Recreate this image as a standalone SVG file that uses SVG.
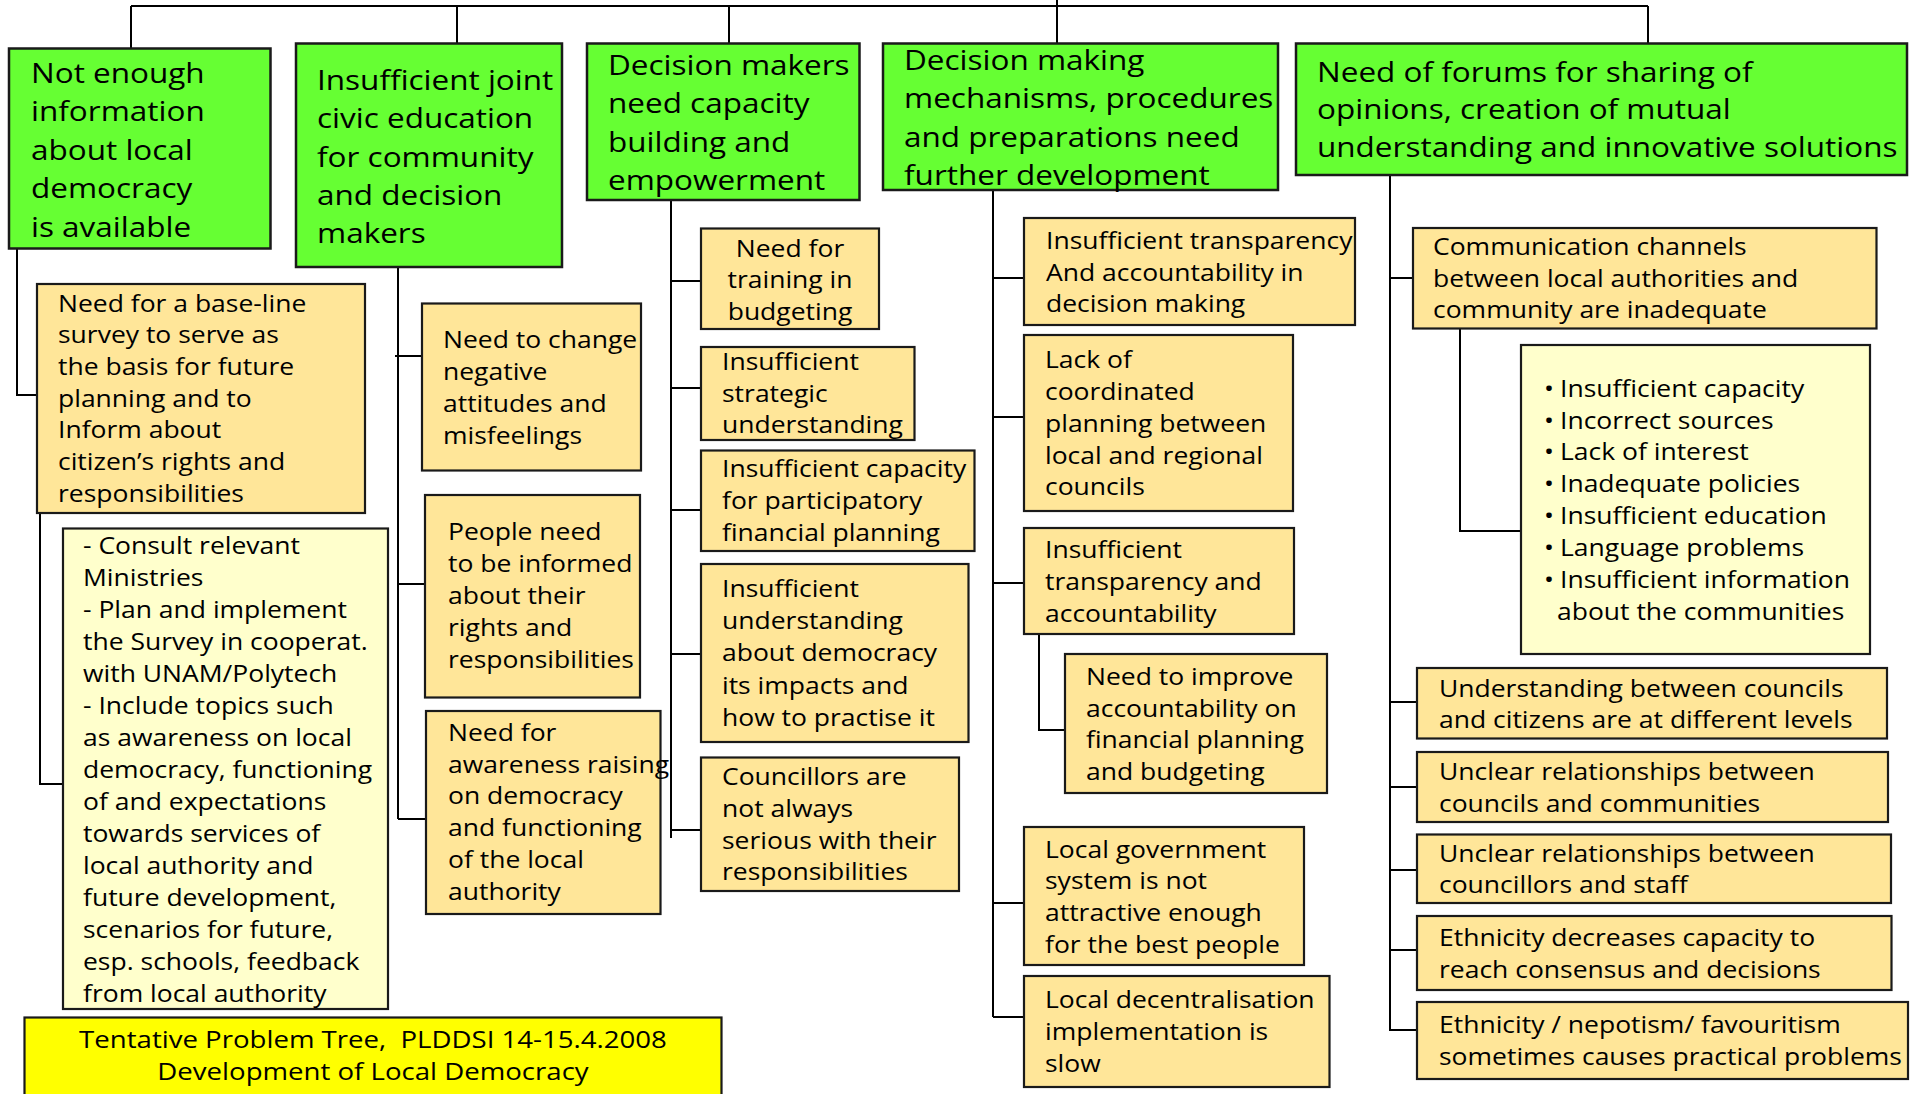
<svg xmlns="http://www.w3.org/2000/svg" width="1910" height="1094" viewBox="0 0 1910 1094">
<style>
.g{fill:#66FF33;stroke:#1a1a1a;stroke-width:2.5}
.y{fill:#FFE699;stroke:#1a1a1a;stroke-width:2.2}
.ly{fill:#FFFFCC;stroke:#1a1a1a;stroke-width:2.2}
.t{fill:#FFFF00;stroke:#1a1a1a;stroke-width:2.2}
.tg{font-family:"Open Sans","Liberation Sans",sans-serif;font-size:27.5px;fill:#000}
.ty{font-family:"Open Sans","Liberation Sans",sans-serif;font-size:23px;fill:#000}
.c{fill:none;stroke:#000;stroke-width:2}
</style>
<rect width="1910" height="1094" fill="#fff"/>
<g id="connectors" class="c">
<path d="M131 6H1648M131 6V48M457 6V43M729 6V43M1057 0V43M1648 6V43"/>
<path d="M17 249V395H37M40 513V784H63"/>
<path d="M398 267V819M395 356H422M398 584H425M398 819H426"/>
<path d="M671 200V838M671 281H701M671 388H701M671 510H701M671 654H701M671 830H701"/>
<path d="M993 190V1017M993 278H1024M993 417H1024M993 583H1024M1039 634V730H1065M993 903H1024M993 1017H1024"/>
<path d="M1390 175V1031M1390 278H1413M1460 329V531H1521M1390 702H1417M1390 787H1417M1390 870H1417M1390 950H1417M1390 1030H1417"/>
</g>
<g id="n_info">
<rect class="g" x="9" y="48.5" width="261.5" height="200"/>
<text class="tg" transform="translate(31 0) scale(1.1455 1)"><tspan x="0" y="83">Not enough</tspan><tspan x="0" y="121.5">information</tspan><tspan x="0" y="160">about local</tspan><tspan x="0" y="198.5">democracy</tspan><tspan x="0" y="237">is available</tspan></text>
</g>
<g id="n_civic">
<rect class="g" x="296" y="43.5" width="266" height="223.5"/>
<text class="tg" transform="translate(317 0) scale(1.1455 1)"><tspan x="0" y="90">Insufficient joint</tspan><tspan x="0" y="128.3">civic education</tspan><tspan x="0" y="166.6">for community</tspan><tspan x="0" y="204.9">and decision</tspan><tspan x="0" y="243.2">makers</tspan></text>
</g>
<g id="n_capacity">
<rect class="g" x="587" y="43.5" width="272.5" height="156.5"/>
<text class="tg" transform="translate(608 0) scale(1.1455 1)"><tspan x="0" y="75">Decision makers</tspan><tspan x="0" y="113.3">need capacity</tspan><tspan x="0" y="151.6">building and</tspan><tspan x="0" y="190">empowerment</tspan></text>
</g>
<g id="n_mech">
<rect class="g" x="883" y="43.5" width="395" height="146.5"/>
<text class="tg" transform="translate(904 0) scale(1.1455 1)"><tspan x="0" y="70">Decision making</tspan><tspan x="0" y="108.3">mechanisms, procedures</tspan><tspan x="0" y="146.6">and preparations need</tspan><tspan x="0" y="185">further development</tspan></text>
</g>
<g id="n_forums">
<rect class="g" x="1296" y="43.5" width="611" height="131.5"/>
<text class="tg" transform="translate(1317 0) scale(1.1455 1)"><tspan x="0" y="81.7">Need of forums for sharing of</tspan><tspan x="0" y="119.5">opinions, creation of mutual</tspan><tspan x="0" y="157.3">understanding and innovative solutions</tspan></text>
</g>
<g id="n_baseline">
<rect class="y" x="37" y="284" width="328" height="229"/>
<text class="ty" transform="translate(58 0) scale(1.152 1)"><tspan x="0" y="311.7">Need for a base-line</tspan><tspan x="0" y="343.4">survey to serve as</tspan><tspan x="0" y="375.1">the basis for future</tspan><tspan x="0" y="406.8">planning and to</tspan><tspan x="0" y="438.5">Inform about</tspan><tspan x="0" y="470.2">citizen’s rights and</tspan><tspan x="0" y="501.9">responsibilities</tspan></text>
</g>
<g id="n_survey">
<rect class="ly" x="63" y="528.5" width="325" height="480.5"/>
<text class="ty" transform="translate(83 0) scale(1.152 1)"><tspan x="0" y="554">- Consult relevant</tspan><tspan x="0" y="586">Ministries</tspan><tspan x="0" y="618">- Plan and implement</tspan><tspan x="0" y="650">the Survey in cooperat.</tspan><tspan x="0" y="682">with UNAM/Polytech</tspan><tspan x="0" y="714">- Include topics such</tspan><tspan x="0" y="746">as awareness on local</tspan><tspan x="0" y="778">democracy, functioning</tspan><tspan x="0" y="810">of and expectations</tspan><tspan x="0" y="842">towards services of</tspan><tspan x="0" y="874">local authority and</tspan><tspan x="0" y="906">future development,</tspan><tspan x="0" y="938">scenarios for future,</tspan><tspan x="0" y="970">esp. schools, feedback</tspan><tspan x="0" y="1002">from local authority</tspan></text>
</g>
<g id="n_attitudes">
<rect class="y" x="422" y="303.5" width="219" height="167"/>
<text class="ty" transform="translate(443 0) scale(1.152 1)"><tspan x="0" y="348.3">Need to change</tspan><tspan x="0" y="380.3">negative</tspan><tspan x="0" y="412.3">attitudes and</tspan><tspan x="0" y="444.3">misfeelings</tspan></text>
</g>
<g id="n_people">
<rect class="y" x="425" y="495" width="215" height="202.5"/>
<text class="ty" transform="translate(448 0) scale(1.152 1)"><tspan x="0" y="540">People need</tspan><tspan x="0" y="571.9">to be informed</tspan><tspan x="0" y="603.8">about their</tspan><tspan x="0" y="635.7">rights and</tspan><tspan x="0" y="667.6">responsibilities</tspan></text>
</g>
<g id="n_awareness">
<rect class="y" x="426" y="711" width="234.5" height="203"/>
<text class="ty" transform="translate(448 0) scale(1.152 1)"><tspan x="0" y="740.7">Need for</tspan><tspan x="0" y="772.6">awareness raising</tspan><tspan x="0" y="804.5">on democracy</tspan><tspan x="0" y="836.4">and functioning</tspan><tspan x="0" y="868.3">of the local</tspan><tspan x="0" y="900.2">authority</tspan></text>
</g>
<g id="n_training">
<rect class="y" x="701" y="228.5" width="178" height="100.5"/>
<text class="ty" text-anchor="middle" transform="translate(790 0) scale(1.152 1)"><tspan x="0" y="256.7">Need for</tspan><tspan x="0" y="288.4">training in</tspan><tspan x="0" y="320.1">budgeting</tspan></text>
</g>
<g id="n_strategic">
<rect class="y" x="701" y="347" width="213.5" height="93"/>
<text class="ty" transform="translate(722 0) scale(1.152 1)"><tspan x="0" y="370">Insufficient</tspan><tspan x="0" y="401.6">strategic</tspan><tspan x="0" y="433.3">understanding</tspan></text>
</g>
<g id="n_participatory">
<rect class="y" x="701" y="450.5" width="273.5" height="100.5"/>
<text class="ty" transform="translate(722 0) scale(1.152 1)"><tspan x="0" y="477.3">Insufficient capacity</tspan><tspan x="0" y="509">for participatory</tspan><tspan x="0" y="540.7">financial planning</tspan></text>
</g>
<g id="n_democracy">
<rect class="y" x="701" y="564" width="267.5" height="178"/>
<text class="ty" transform="translate(722 0) scale(1.152 1)"><tspan x="0" y="597.3">Insufficient</tspan><tspan x="0" y="629.4">understanding</tspan><tspan x="0" y="661.5">about democracy</tspan><tspan x="0" y="693.6">its impacts and</tspan><tspan x="0" y="725.7">how to practise it</tspan></text>
</g>
<g id="n_councillors">
<rect class="y" x="701" y="757.5" width="258" height="133.5"/>
<text class="ty" transform="translate(722 0) scale(1.152 1)"><tspan x="0" y="785">Councillors are</tspan><tspan x="0" y="816.8">not always</tspan><tspan x="0" y="848.6">serious with their</tspan><tspan x="0" y="880.4">responsibilities</tspan></text>
</g>
<g id="n_transparency1">
<rect class="y" x="1024" y="218" width="331" height="107"/>
<text class="ty" transform="translate(1046 0) scale(1.152 1)"><tspan x="0" y="249">Insufficient transparency</tspan><tspan x="0" y="280.6">And accountability in</tspan><tspan x="0" y="312.2">decision making</tspan></text>
</g>
<g id="n_coordinated">
<rect class="y" x="1024" y="335" width="269" height="176"/>
<text class="ty" transform="translate(1045 0) scale(1.152 1)"><tspan x="0" y="368.3">Lack of</tspan><tspan x="0" y="400.1">coordinated</tspan><tspan x="0" y="431.9">planning between</tspan><tspan x="0" y="463.7">local and regional</tspan><tspan x="0" y="495.5">councils</tspan></text>
</g>
<g id="n_transparency2">
<rect class="y" x="1024" y="528" width="270" height="106"/>
<text class="ty" transform="translate(1045 0) scale(1.152 1)"><tspan x="0" y="558.3">Insufficient</tspan><tspan x="0" y="590">transparency and</tspan><tspan x="0" y="621.7">accountability</tspan></text>
</g>
<g id="n_improve">
<rect class="y" x="1065" y="654" width="262" height="139"/>
<text class="ty" transform="translate(1086 0) scale(1.152 1)"><tspan x="0" y="685">Need to improve</tspan><tspan x="0" y="716.7">accountability on</tspan><tspan x="0" y="748.4">financial planning</tspan><tspan x="0" y="780.1">and budgeting</tspan></text>
</g>
<g id="n_attractive">
<rect class="y" x="1024" y="827" width="280" height="138"/>
<text class="ty" transform="translate(1045 0) scale(1.152 1)"><tspan x="0" y="857.7">Local government</tspan><tspan x="0" y="889.5">system is not</tspan><tspan x="0" y="921.3">attractive enough</tspan><tspan x="0" y="953.1">for the best people</tspan></text>
</g>
<g id="n_decentral">
<rect class="y" x="1024" y="976" width="305.5" height="111"/>
<text class="ty" transform="translate(1045 0) scale(1.152 1)"><tspan x="0" y="1008.3">Local decentralisation</tspan><tspan x="0" y="1040.4">implementation is</tspan><tspan x="0" y="1072.5">slow</tspan></text>
</g>
<g id="n_channels">
<rect class="y" x="1413" y="228" width="463.5" height="100.5"/>
<text class="ty" transform="translate(1433 0) scale(1.152 1)"><tspan x="0" y="255">Communication channels</tspan><tspan x="0" y="286.7">between local authorities and</tspan><tspan x="0" y="318.4">community are inadequate</tspan></text>
</g>
<g id="n_reasons">
<rect class="ly" x="1521" y="345" width="349" height="309"/>
<text class="ty" transform="translate(1544 0) scale(1.152 1)"><tspan x="0" y="396.7">•</tspan><tspan x="13.9" y="396.7">Insufficient capacity</tspan><tspan x="0" y="428.6">•</tspan><tspan x="13.9" y="428.6">Incorrect sources</tspan><tspan x="0" y="460.5">•</tspan><tspan x="13.9" y="460.5">Lack of interest</tspan><tspan x="0" y="492.4">•</tspan><tspan x="13.9" y="492.4">Inadequate policies</tspan><tspan x="0" y="524.3">•</tspan><tspan x="13.9" y="524.3">Insufficient education</tspan><tspan x="0" y="556.2">•</tspan><tspan x="13.9" y="556.2">Language problems</tspan><tspan x="0" y="588.1">•</tspan><tspan x="13.9" y="588.1">Insufficient information</tspan><tspan x="11.3" y="620">about the communities</tspan></text>
</g>
<g id="n_levels">
<rect class="y" x="1417" y="668" width="470" height="70.5"/>
<text class="ty" transform="translate(1439 0) scale(1.152 1)"><tspan x="0" y="696.7">Understanding between councils</tspan><tspan x="0" y="728.4">and citizens are at different levels</tspan></text>
</g>
<g id="n_communities">
<rect class="y" x="1417" y="752" width="471" height="70"/>
<text class="ty" transform="translate(1439 0) scale(1.152 1)"><tspan x="0" y="780">Unclear relationships between</tspan><tspan x="0" y="811.7">councils and communities</tspan></text>
</g>
<g id="n_staff">
<rect class="y" x="1417" y="834.5" width="474" height="68.5"/>
<text class="ty" transform="translate(1439 0) scale(1.152 1)"><tspan x="0" y="861.7">Unclear relationships between</tspan><tspan x="0" y="893.4">councillors and staff</tspan></text>
</g>
<g id="n_ethnicity">
<rect class="y" x="1417" y="916" width="474.5" height="74"/>
<text class="ty" transform="translate(1439 0) scale(1.152 1)"><tspan x="0" y="946">Ethnicity decreases capacity to</tspan><tspan x="0" y="977.7">reach consensus and decisions</tspan></text>
</g>
<g id="n_nepotism">
<rect class="y" x="1417" y="1002" width="491" height="77"/>
<text class="ty" transform="translate(1439 0) scale(1.152 1)"><tspan x="0" y="1033.3">Ethnicity / nepotism/ favouritism</tspan><tspan x="0" y="1065">sometimes causes practical problems</tspan></text>
</g>
<g id="title">
<rect class="t" x="24.5" y="1017.5" width="697" height="90"/>
<text class="ty" text-anchor="middle" xml:space="preserve" transform="translate(373 0) scale(1.2 1)"><tspan x="0" y="1047.7">Tentative Problem Tree,  PLDDSI 14-15.4.2008</tspan><tspan x="0" y="1080">Development of Local Democracy</tspan></text>
</g>
</svg>
